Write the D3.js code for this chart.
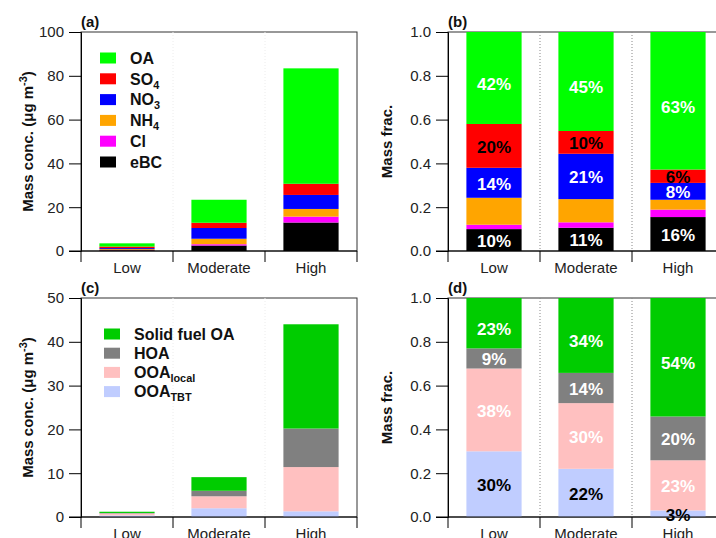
<!DOCTYPE html>
<html>
<head>
<meta charset="utf-8">
<script src="https://cdn.jsdelivr.net/npm/d3@7"></script>
<style>
  html, body { margin: 0; padding: 0; background: #fff; }
  svg { display: block; font-family: "Liberation Sans", Arial, Helvetica, sans-serif; }
</style>
</head>
<body>
<svg id="chart" width="716" height="538"></svg>
<script>
// Pollution-level categories shared by all four panels
const categories = ["Low", "Moderate", "High"];

// (a) PM1 species mass concentrations, µg m-3 (stacked bottom to top)
const eBC = [0.35, 2.5, 13.0];
const Cl  = [0.07, 0.6, 2.7];
const NH4 = [0.43, 2.5, 3.5];
const NO3 = [0.48, 4.9, 6.4];
const SO4 = [0.70, 2.4, 5.1];
const OA  = [1.47, 10.5, 52.7];

// (b) PM1 species mass fractions
const fracEBC = [0.100, 0.106, 0.155];
const fracCl  = [0.020, 0.025, 0.034];
const fracNH4 = [0.123, 0.106, 0.045];
const fracNO3 = [0.137, 0.207, 0.077];
const fracSO4 = [0.200, 0.104, 0.061];
const fracOA  = [0.420, 0.452, 0.628];

// (c) OA source factor concentrations, µg m-3
const ooaTBT   = [0.36, 2.00, 1.3];
const ooaLocal = [0.45, 2.73, 10.1];
const hoa      = [0.11, 1.26, 8.8];
const sfoa     = [0.28, 3.11, 23.8];

// (d) OA source factor mass fractions
const fracTBT   = [0.300, 0.220, 0.030];
const fracLocal = [0.378, 0.300, 0.229];
const fracHOA   = [0.092, 0.138, 0.200];
const fracSFOA  = [0.230, 0.342, 0.541];

// Axis ticks
const concTicksA = [0, 20, 40, 60, 80, 100];
const concTicksC = [0, 10, 20, 30, 40, 50];
const fracTicks  = [0, 0.2, 0.4, 0.6, 0.8, 1.0];

// Series definitions (bottom of stack first)
const speciesSeries = [
  { key: "eBC", name: [["eBC"]], color: "#000000", conc: eBC, frac: fracEBC, labelColor: "#ffffff" },
  { key: "Cl",  name: [["Cl"]],  color: "#ff00ff", conc: Cl,  frac: fracCl,  labelColor: null },
  { key: "NH4", name: [["NH"], ["4", "sub"]], color: "#ffa500", conc: NH4, frac: fracNH4, labelColor: null },
  { key: "NO3", name: [["NO"], ["3", "sub"]], color: "#0000ff", conc: NO3, frac: fracNO3, labelColor: "#ffffff" },
  { key: "SO4", name: [["SO"], ["4", "sub"]], color: "#ff0000", conc: SO4, frac: fracSO4, labelColor: "#000000" },
  { key: "OA",  name: [["OA"]],  color: "#00ff00", conc: OA,  frac: fracOA,  labelColor: "#ffffff" }
];
const factorSeries = [
  { key: "TBT",   name: [["OOA"], ["TBT", "sub"]],   color: "#c0cdff", conc: ooaTBT,   frac: fracTBT,   labelColor: "#000000" },
  { key: "local", name: [["OOA"], ["local", "sub"]], color: "#ffc0c0", conc: ooaLocal, frac: fracLocal, labelColor: "#ffffff" },
  { key: "HOA",   name: [["HOA"]],                   color: "#808080", conc: hoa,      frac: fracHOA,   labelColor: "#ffffff" },
  { key: "SFOA",  name: [["Solid fuel OA"]],         color: "#00cc00", conc: sfoa,     frac: fracSFOA,  labelColor: "#ffffff" }
];

const svg = d3.select("#chart");

function drawPanel(opt) {
  const { left, right, top, bottom, series, field, domain, ticks, fmt, tag, ytitle, dividerColor } = opt;
  const g = svg.append("g");

  const x = d3.scaleBand().domain(categories).range([left, right]).padding(0);
  const y = d3.scaleLinear().domain(domain).range([bottom, top]);
  const barW = x.bandwidth() * 0.6;

  // frame
  g.append("rect")
    .attr("x", left).attr("y", top)
    .attr("width", right - left).attr("height", bottom - top)
    .attr("fill", "none").attr("stroke", "#333").attr("stroke-width", 1);

  // dotted category separators
  const bounds = categories.map(c => x(c)).concat([right]);
  g.selectAll(".sep").data(bounds.slice(1, -1)).enter().append("line")
    .attr("x1", d => d).attr("x2", d => d)
    .attr("y1", top).attr("y2", bottom)
    .attr("stroke", dividerColor).attr("stroke-dasharray", "1,2");

  // stacked bars
  const rows = categories.map((c, i) => {
    const r = { cat: c };
    series.forEach(s => { r[s.key] = s[field][i]; });
    return r;
  });
  const stacked = d3.stack().keys(series.map(s => s.key))(rows);
  stacked.forEach((layer, li) => {
    const s = series[li];
    g.selectAll(null).data(layer).enter().append("rect")
      .attr("x", d => x(d.data.cat) + (x.bandwidth() - barW) / 2)
      .attr("width", barW)
      .attr("y", d => y(d[1]))
      .attr("height", d => y(d[0]) - y(d[1]))
      .attr("fill", s.color);
  });

  // percentage labels
  if (opt.labels) {
    stacked.forEach((layer, li) => {
      const s = series[li];
      if (!s.labelColor) return;
      const isTop = li === series.length - 1;
      g.selectAll(null).data(layer).enter().append("text")
        .attr("x", d => x(d.data.cat) + x.bandwidth() / 2)
        .attr("y", d => (y(d[0]) + y(d[1])) / 2 + 6 + (isTop ? 6 : 1))
        .attr("text-anchor", "middle")
        .attr("font-size", 17).attr("font-weight", "bold")
        .attr("fill", s.labelColor)
        .text(d => Math.round((d[1] - d[0]) * 100) + "%");
    });
  }

  // y axis
  const yAxis = d3.axisLeft(y).tickValues(ticks).tickFormat(fmt).tickSize(12).tickPadding(5);
  const ya = g.append("g").attr("transform", `translate(${left},0)`).call(yAxis);
  ya.select(".domain").attr("stroke", "#000");
  ya.selectAll(".tick line").attr("stroke", "#000");
  ya.selectAll("text").attr("font-size", 15).attr("fill", "#222")
    .attr("font-family", "'Liberation Sans', Arial, sans-serif");

  // x axis: category names centred, ticks at category boundaries
  const xAxis = d3.axisBottom(x).tickSize(0).tickPadding(11);
  const xa = g.append("g").attr("transform", `translate(0,${bottom})`).call(xAxis);
  xa.select(".domain").attr("stroke", "#000").attr("d", `M${left - 12},0H${right}`);
  xa.selectAll("text").attr("font-size", 15).attr("fill", "#222")
    .attr("font-family", "'Liberation Sans', Arial, sans-serif");
  g.selectAll(".xb").data(bounds).enter().append("line")
    .attr("x1", d => d).attr("x2", d => d)
    .attr("y1", bottom).attr("y2", bottom + 11)
    .attr("stroke", "#000");

  // panel tag
  g.append("text").attr("x", left).attr("y", top - 5)
    .attr("font-size", 15).attr("font-weight", "bold").attr("fill", "#111")
    .text(tag);

  // y title
  const t = g.append("text")
    .attr("transform", `translate(${opt.titleX},${(top + bottom) / 2}) rotate(-90)`)
    .attr("text-anchor", "middle")
    .attr("font-size", 15).attr("font-weight", "bold").attr("fill", "#111");
  let shifted = 0;
  ytitle.forEach(part => {
    const sp = t.append("tspan").text(part[0]);
    if (part[1] === "sup") { sp.attr("dy", -6).attr("font-size", 11); shifted = -6; }
    else if (shifted) { sp.attr("dy", -shifted); shifted = 0; }
  });

  return { x, y };
}

function drawLegend(series, x0, y0, dy, sw, sh, tx, fontSize) {
  const lg = svg.append("g");
  series.slice().reverse().forEach((s, i) => {
    const cy = y0 + i * dy;
    lg.append("rect").attr("x", x0).attr("y", cy - sh / 2)
      .attr("width", sw).attr("height", sh).attr("fill", s.color);
    const t = lg.append("text").attr("x", tx).attr("y", cy + fontSize * 0.36)
      .attr("font-size", fontSize).attr("font-weight", "bold").attr("fill", "#111");
    s.name.forEach(part => {
      const sp = t.append("tspan").text(part[0]);
      if (part[1] === "sub") sp.attr("dy", 4).attr("font-size", fontSize * 0.68);
    });
  });
}

const concTitle = [["Mass conc. (μg m"], ["-3", "sup"], [")"]];
const fracTitle = [["Mass frac."]];

drawPanel({ left: 81, right: 357, top: 32, bottom: 251, series: speciesSeries, field: "conc",
  domain: [0, 100], ticks: concTicksA, fmt: d3.format("d"), tag: "(a)", ytitle: concTitle,
  titleX: 33, dividerColor: "#ececec", labels: false });
drawPanel({ left: 448, right: 724, top: 32, bottom: 251, series: speciesSeries, field: "frac",
  domain: [0, 1], ticks: fracTicks, fmt: d3.format(".1f"), tag: "(b)", ytitle: fracTitle,
  titleX: 392, dividerColor: "#888", labels: true });
drawPanel({ left: 81, right: 357, top: 298, bottom: 517, series: factorSeries, field: "conc",
  domain: [0, 50], ticks: concTicksC, fmt: d3.format("d"), tag: "(c)", ytitle: concTitle,
  titleX: 33, dividerColor: "#ececec", labels: false });
drawPanel({ left: 448, right: 724, top: 298, bottom: 517, series: factorSeries, field: "frac",
  domain: [0, 1], ticks: fracTicks, fmt: d3.format(".1f"), tag: "(d)", ytitle: fracTitle,
  titleX: 392, dividerColor: "#888", labels: true });

drawLegend(speciesSeries, 100, 58, 20.8, 16, 11, 130, 16);
drawLegend(factorSeries, 104, 334, 19.2, 16, 11, 134, 16);
</script>
</body>
</html>
